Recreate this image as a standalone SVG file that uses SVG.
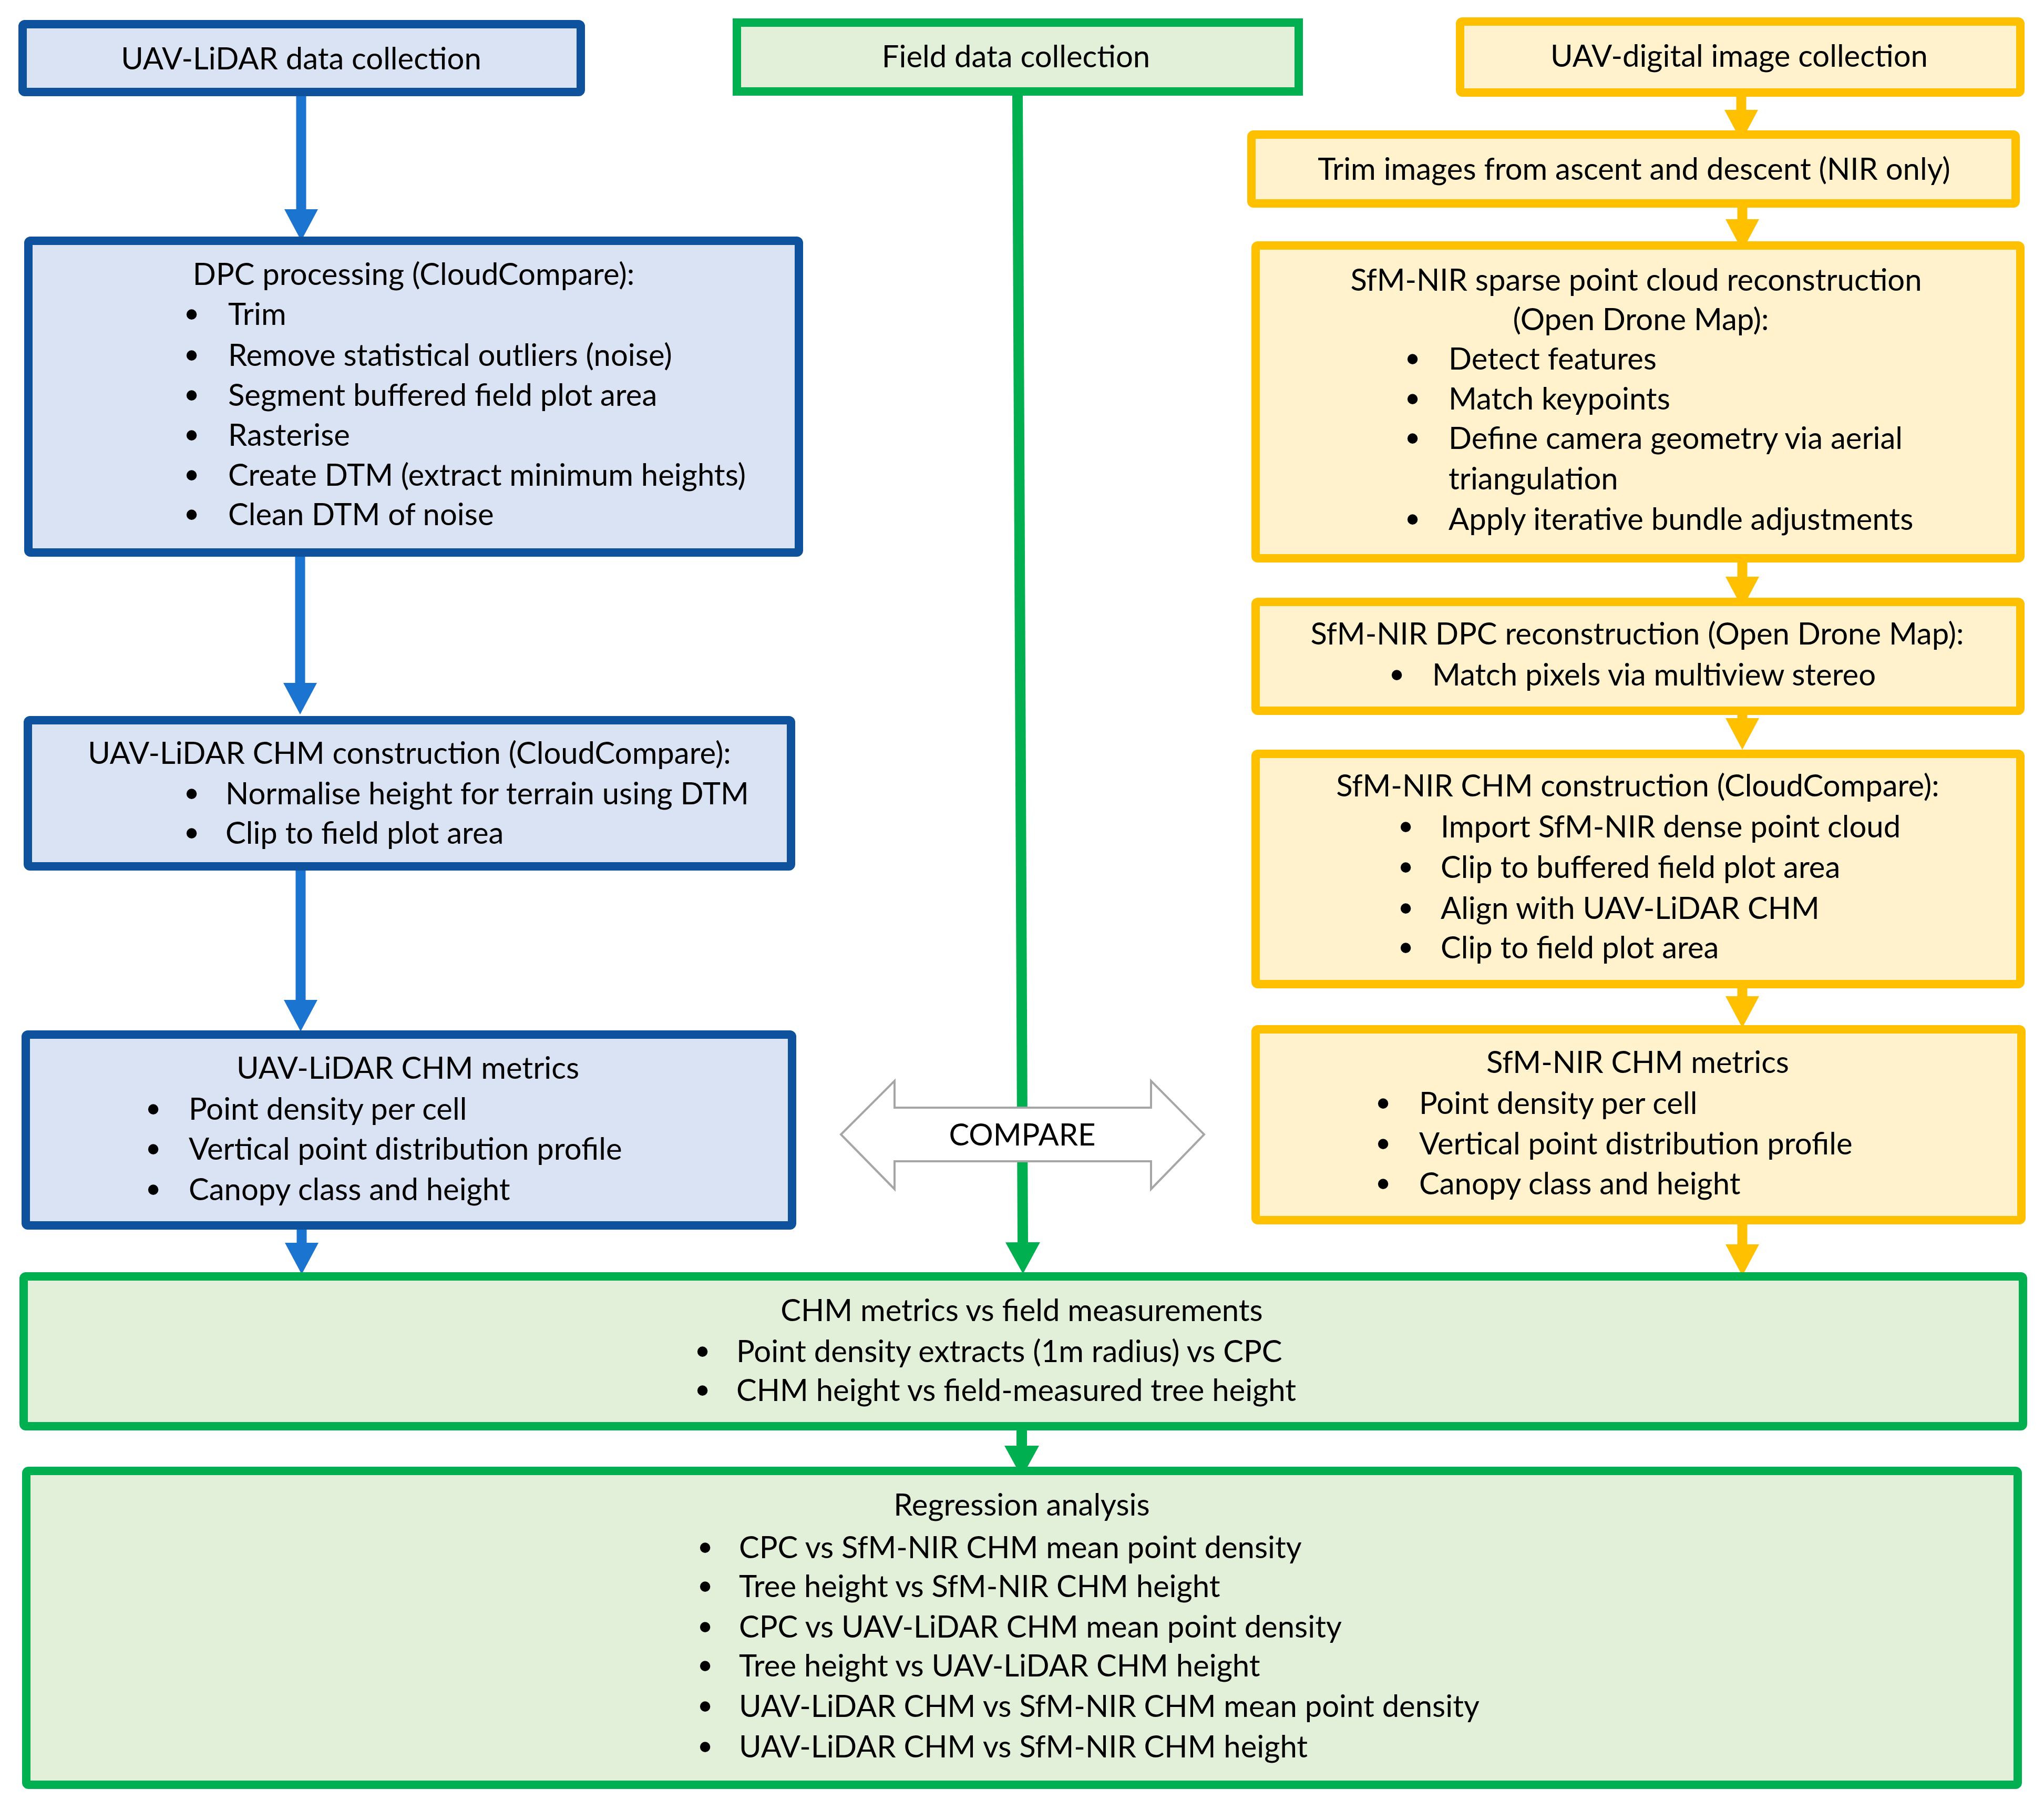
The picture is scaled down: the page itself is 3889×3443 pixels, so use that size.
<svg xmlns="http://www.w3.org/2000/svg" width="3889" height="3443" viewBox="0 0 3889 3443">
<style>
.t{font-family:Lato,"Open Sans","Liberation Sans",sans-serif;font-size:58px;fill:#000}
.c{text-anchor:middle}
.b{font-family:"Liberation Sans",sans-serif;font-size:72px;fill:#000}
.blue{fill:#DAE3F3;stroke:#0E519C;stroke-width:16}
.green{fill:#E2F0D9;stroke:#00B050;stroke-width:16}
.yellow{fill:#FFF2CC;stroke:#FFC000;stroke-width:16}
.lb{stroke:#1B74CF;stroke-width:19;fill:none}
.lg{stroke:#00B050;stroke-width:20;fill:none}
.ly{stroke:#FFC000;stroke-width:19;fill:none}
</style>
<defs>
<marker id="ab" markerUnits="userSpaceOnUse" markerWidth="60" markerHeight="64" refX="0" refY="32" orient="auto" viewBox="0 0 60 64"><path d="M0,0 L60,32 L0,64 Z" fill="#1B74CF"/></marker>
<marker id="ag" markerUnits="userSpaceOnUse" markerWidth="60" markerHeight="66" refX="0" refY="33" orient="auto" viewBox="0 0 60 66"><path d="M0,0 L60,33 L0,66 Z" fill="#00B050"/></marker>
<marker id="ay" markerUnits="userSpaceOnUse" markerWidth="60" markerHeight="64" refX="0" refY="32" orient="auto" viewBox="0 0 60 64"><path d="M0,0 L60,32 L0,64 Z" fill="#FFC000"/></marker>
</defs>
<rect width="3889" height="3443" fill="#fff"/>

<g id="connectors">
<line class="lb" x1="573" y1="183" x2="573" y2="398" marker-end="url(#ab)"/>
<line class="lb" x1="571" y1="1059" x2="571" y2="1299" marker-end="url(#ab)"/>
<line class="lb" x1="572" y1="1656" x2="572" y2="1902" marker-end="url(#ab)"/>
<line class="lb" x1="574" y1="2339" x2="574" y2="2364" marker-end="url(#ab)"/>
<line class="ly" x1="3313" y1="184" x2="3313" y2="209" marker-end="url(#ay)"/>
<line class="ly" x1="3315" y1="395" x2="3315" y2="417" marker-end="url(#ay)"/>
<line class="ly" x1="3315" y1="1070" x2="3315" y2="1097" marker-end="url(#ay)"/>
<line class="ly" x1="3315" y1="1359" x2="3315" y2="1366" marker-end="url(#ay)"/>
<line class="ly" x1="3315" y1="1880" x2="3315" y2="1895" marker-end="url(#ay)"/>
<line class="ly" x1="3315" y1="2328" x2="3315" y2="2367" marker-end="url(#ay)"/>
<line class="lg" x1="1936" y1="182" x2="1946" y2="2363" marker-end="url(#ag)"/>
<line class="lg" x1="1944" y1="2721" x2="1944" y2="2750" marker-end="url(#ag)"/>
</g>

<g id="compare">
<polygon points="1600,2158 1702,2056 1702,2107 2190,2107 2190,2056 2291,2158 2190,2262 2190,2209 1702,2209 1702,2262" fill="#fff" stroke="#A6A6A6" stroke-width="4"/>
<text class="t c" x="1945" y="2179">COMPARE</text>
</g>

<g id="n_lidar_collection">
<rect class="blue" x="43" y="46" width="1062" height="129" rx="4"/>
<text class="t c" x="573" y="132">UAV-LiDAR data collection</text>
</g>

<g id="n_field_collection">
<rect class="green" x="1402" y="43" width="1069" height="131"/>
<text class="t c" x="1933" y="128">Field data collection</text>
</g>

<g id="n_image_collection">
<rect class="yellow" x="2778" y="41" width="1066" height="135" rx="4"/>
<text class="t c" x="3309" y="127">UAV-digital image collection</text>
</g>

<g id="n_trim">
<rect class="yellow" x="2381" y="256" width="1454" height="131" rx="4"/>
<text class="t c" x="3109" y="342">Trim images from ascent and descent (NIR only)</text>
</g>

<g id="n_dpc_processing">
<rect class="blue" x="54" y="458" width="1466" height="593" rx="4"/>
<text class="t c" x="787" y="542">DPC processing (CloudCompare):</text>
<text class="b" x="352" y="622">•</text><text class="t" x="434" y="618">Trim</text>
<text class="b" x="352" y="700">•</text><text class="t" x="434" y="696">Remove statistical outliers (noise)</text>
<text class="b" x="352" y="776">•</text><text class="t" x="434" y="772">Segment buffered field plot area</text>
<text class="b" x="352" y="852">•</text><text class="t" x="434" y="848">Rasterise</text>
<text class="b" x="352" y="928">•</text><text class="t" x="434" y="924">Create DTM (extract minimum heights)</text>
<text class="b" x="352" y="1003">•</text><text class="t" x="434" y="999">Clean DTM of noise</text>
</g>

<g id="n_lidar_chm_construction">
<rect class="blue" x="53" y="1370" width="1452" height="278" rx="4"/>
<text class="t c" x="779" y="1453">UAV-LiDAR CHM construction (CloudCompare):</text>
<text class="b" x="352" y="1534">•</text><text class="t" x="429" y="1530">Normalise height for terrain using DTM</text>
<text class="b" x="352" y="1609">•</text><text class="t" x="429" y="1605">Clip to field plot area</text>
</g>

<g id="n_lidar_chm_metrics">
<rect class="blue" x="49" y="1968" width="1458" height="363" rx="4"/>
<text class="t c" x="776" y="2052">UAV-LiDAR CHM metrics</text>
<text class="b" x="279" y="2134">•</text><text class="t" x="359" y="2130">Point density per cell</text>
<text class="b" x="279" y="2210">•</text><text class="t" x="359" y="2206">Vertical point distribution profile</text>
<text class="b" x="279" y="2287">•</text><text class="t" x="359" y="2283">Canopy class and height</text>
</g>

<g id="n_sparse">
<rect class="yellow" x="2389" y="467" width="1455" height="595" rx="4"/>
<text class="t c" x="3113" y="553">SfM-NIR sparse point cloud reconstruction</text>
<text class="t c" x="3122" y="628">(Open Drone Map):</text>
<text class="b" x="2675" y="707">•</text><text class="t" x="2756" y="703">Detect features</text>
<text class="b" x="2675" y="783">•</text><text class="t" x="2756" y="779">Match keypoints</text>
<text class="b" x="2675" y="858">•</text><text class="t" x="2756" y="854">Define camera geometry via aerial</text>
<text class="t" x="2756" y="931">triangulation</text>
<text class="b" x="2675" y="1012">•</text><text class="t" x="2756" y="1008">Apply iterative bundle adjustments</text>
</g>

<g id="n_dpc_reconstruction">
<rect class="yellow" x="2389" y="1145" width="1455" height="207" rx="4"/>
<text class="t c" x="3115" y="1226">SfM-NIR DPC reconstruction (Open Drone Map):</text>
<text class="b" x="2645" y="1308">•</text><text class="t" x="2725" y="1304">Match pixels via multiview stereo</text>
</g>

<g id="n_sfm_chm_construction">
<rect class="yellow" x="2389" y="1434" width="1455" height="438" rx="4"/>
<text class="t c" x="3116" y="1515">SfM-NIR CHM construction (CloudCompare):</text>
<text class="b" x="2662" y="1597">•</text><text class="t" x="2741" y="1593">Import SfM-NIR dense point cloud</text>
<text class="b" x="2662" y="1674">•</text><text class="t" x="2741" y="1670">Clip to buffered field plot area</text>
<text class="b" x="2662" y="1752">•</text><text class="t" x="2741" y="1748">Align with UAV-LiDAR CHM</text>
<text class="b" x="2662" y="1827">•</text><text class="t" x="2741" y="1823">Clip to field plot area</text>
</g>

<g id="n_sfm_chm_metrics">
<rect class="yellow" x="2389" y="1958" width="1457" height="363" rx="4"/>
<text class="t c" x="3116" y="2041">SfM-NIR CHM metrics</text>
<text class="b" x="2619" y="2123">•</text><text class="t" x="2700" y="2119">Point density per cell</text>
<text class="b" x="2619" y="2200">•</text><text class="t" x="2700" y="2196">Vertical point distribution profile</text>
<text class="b" x="2619" y="2276">•</text><text class="t" x="2700" y="2272">Canopy class and height</text>
</g>

<g id="n_chm_vs_field">
<rect class="green" x="45" y="2428" width="3804" height="285" rx="4"/>
<text class="t c" x="1944" y="2513">CHM metrics vs field measurements</text>
<text class="b" x="1324" y="2595">•</text><text class="t" x="1401" y="2591">Point density extracts (1m radius) vs CPC</text>
<text class="b" x="1324" y="2669">•</text><text class="t" x="1401" y="2665">CHM height vs field-measured tree height</text>
</g>

<g id="n_regression">
<rect class="green" x="50" y="2798" width="3789" height="597" rx="4"/>
<text class="t c" x="1944" y="2883">Regression analysis</text>
<text class="b" x="1329" y="2968">•</text><text class="t" x="1406" y="2964">CPC vs SfM-NIR CHM mean point density</text>
<text class="b" x="1329" y="3042">•</text><text class="t" x="1406" y="3038">Tree height vs SfM-NIR CHM height</text>
<text class="b" x="1329" y="3119">•</text><text class="t" x="1406" y="3115">CPC vs UAV-LiDAR CHM mean point density</text>
<text class="b" x="1329" y="3193">•</text><text class="t" x="1406" y="3189">Tree height vs UAV-LiDAR CHM height</text>
<text class="b" x="1329" y="3270">•</text><text class="t" x="1406" y="3266">UAV-LiDAR CHM vs SfM-NIR CHM mean point density</text>
<text class="b" x="1329" y="3347">•</text><text class="t" x="1406" y="3343">UAV-LiDAR CHM vs SfM-NIR CHM height</text>
</g>
</svg>
